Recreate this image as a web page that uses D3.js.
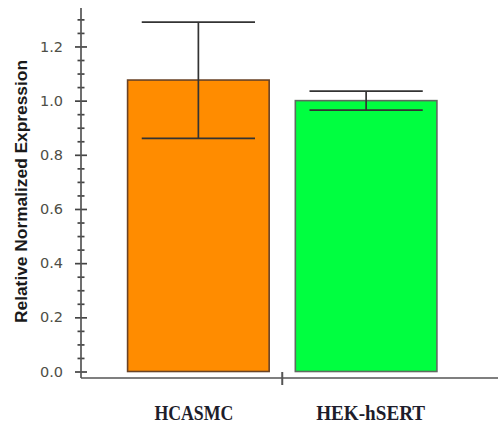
<!DOCTYPE html>
<html>
<head>
<meta charset="utf-8">
<script src="https://cdn.jsdelivr.net/npm/d3@7"></script>
<style>
  html, body { margin: 0; padding: 0; background: #fff; }
  svg { display: block; }
</style>
</head>
<body>
<svg id="chart" width="498" height="427"></svg>
<script>
// Relative normalized expression per cell line, with error bar limits
const categories = ["HCASMC", "HEK-hSERT"];
const means = [1.076, 1.0];
const errUpper = [1.29, 1.035];
const errLower = [0.861, 0.965];
const barColors = ["#FF8C00", "#00FF40"];
const barStrokes = ["#6a4326", "#5f6a60"];
const majorTicks = [0, 0.2, 0.4, 0.6, 0.8, 1.0, 1.2];
const minorTicks = [0.05, 0.1, 0.15, 0.25, 0.3, 0.35, 0.45, 0.5, 0.55, 0.65, 0.7, 0.75,
                    0.85, 0.9, 0.95, 1.05, 1.1, 1.15, 1.25, 1.3];
const yTitle = "Relative Normalized Expression";

const svg = d3.select("#chart");
const axisX = 81, baseY = 378;

const y = d3.scaleLinear().domain([0, 1.342]).range([371.5, 8]);
const x = d3.scaleBand().domain(categories).range([114.5, 450])
  .paddingInner(0.156).paddingOuter(0.078);

// bars
svg.append("g").selectAll("rect").data(categories).join("rect")
  .attr("x", d => x(d))
  .attr("y", (d, i) => y(means[i]))
  .attr("width", x.bandwidth())
  .attr("height", (d, i) => y(0) - y(means[i]))
  .attr("fill", (d, i) => barColors[i])
  .attr("stroke", (d, i) => barStrokes[i])
  .attr("stroke-width", 1.6);

// error bars
const eb = svg.append("g").attr("stroke", "#333").attr("stroke-width", 1.7);
categories.forEach((c, i) => {
  const cx = x(c) + x.bandwidth() / 2;
  const hw = x.bandwidth() * 0.4;
  eb.append("line").attr("x1", cx).attr("x2", cx).attr("y1", y(errUpper[i])).attr("y2", y(errLower[i]));
  eb.append("line").attr("x1", cx - hw).attr("x2", cx + hw).attr("y1", y(errUpper[i])).attr("y2", y(errUpper[i]));
  eb.append("line").attr("x1", cx - hw).attr("x2", cx + hw).attr("y1", y(errLower[i])).attr("y2", y(errLower[i]));
});

// y axis: major ticks with labels, crossing the axis line
const yMajor = svg.append("g").attr("transform", `translate(${axisX},0)`)
  .call(d3.axisLeft(y).tickValues(majorTicks).tickFormat(d3.format(".1f")).tickSize(6).tickPadding(12));
yMajor.select(".domain").remove();
yMajor.selectAll(".tick line").attr("x2", -6).attr("x1", 6).attr("stroke", "#444").attr("stroke-width", 1.7);
yMajor.selectAll(".tick text")
  .attr("font-family", "DejaVu Sans, sans-serif")
  .attr("font-size", 14.5)
  .attr("fill", "#4e4e46");

// y axis: minor ticks
const yMinor = svg.append("g").attr("transform", `translate(${axisX},0)`)
  .call(d3.axisLeft(y).tickValues(minorTicks).tickFormat("").tickSize(4));
yMinor.select(".domain").remove();
yMinor.selectAll(".tick line").attr("x2", -3.5).attr("x1", 3.5).attr("stroke", "#444").attr("stroke-width", 1.7);

// axis lines
svg.append("line").attr("x1", axisX).attr("x2", axisX).attr("y1", y.range()[1]).attr("y2", baseY)
  .attr("stroke", "#555").attr("stroke-width", 1.7);
svg.append("line").attr("x1", axisX).attr("x2", 498).attr("y1", baseY).attr("y2", baseY)
  .attr("stroke", "#555").attr("stroke-width", 1.7);

// category divider tick on the x axis
const divX = (x(categories[0]) + x.bandwidth() + x(categories[1])) / 2;
svg.append("line").attr("x1", divX).attr("x2", divX).attr("y1", baseY - 6).attr("y2", baseY + 7)
  .attr("stroke", "#555").attr("stroke-width", 2);

// category labels
const labelWidths = [79, 109];
const labelOffsets = [-4.5, 4.5];
svg.append("g").selectAll("text").data(categories).join("text")
  .attr("x", (d, i) => x(d) + x.bandwidth() / 2 + labelOffsets[i])
  .attr("y", 420)
  .attr("text-anchor", "middle")
  .attr("font-family", "Liberation Serif, serif")
  .attr("font-weight", "bold")
  .attr("font-size", 21)
  .attr("textLength", (d, i) => labelWidths[i])
  .attr("lengthAdjust", "spacingAndGlyphs")
  .attr("fill", "#1d1d2b")
  .text(d => d);

// y title
svg.append("text")
  .attr("transform", "translate(27,191.5) rotate(-90)")
  .attr("text-anchor", "middle")
  .attr("font-family", "Liberation Sans, Arial, sans-serif")
  .attr("font-weight", "bold")
  .attr("font-size", 17)
  .attr("textLength", 263)
  .attr("lengthAdjust", "spacingAndGlyphs")
  .attr("fill", "#1a1a1a")
  .text(yTitle);
</script>
</body>
</html>
